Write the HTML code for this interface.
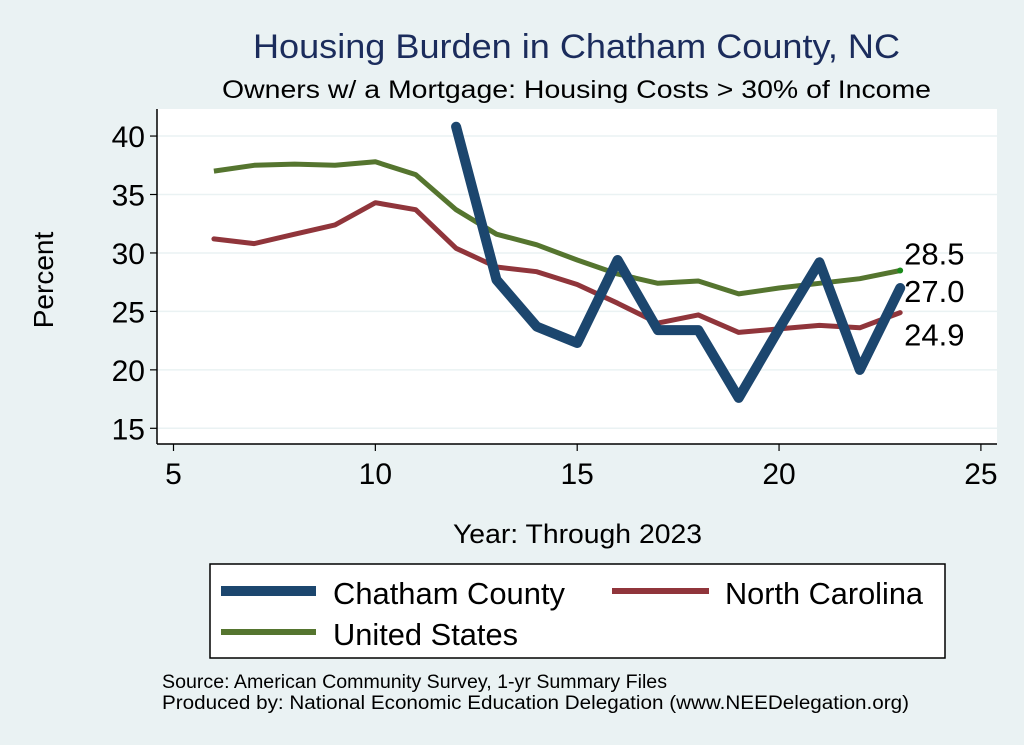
<!DOCTYPE html>
<html><head><meta charset="utf-8"><style>
body{margin:0;background:#eaf2f3;}
svg{display:block;font-family:"Liberation Sans",Arial,sans-serif;}
</style></head><body>
<svg id="chart" width="1024" height="745" viewBox="0 0 1024 745">
<rect width="1024" height="745" fill="#eaf2f3"/>
<text x="253" y="58" textLength="647" lengthAdjust="spacingAndGlyphs" font-size="34" fill="#1b2c5c">Housing Burden in Chatham County, NC</text>
<text x="222" y="98" textLength="709" lengthAdjust="spacingAndGlyphs" font-size="25" fill="#000">Owners w/ a Mortgage: Housing Costs &gt; 30% of Income</text>
<rect x="157" y="109" width="840" height="335" fill="#fff"/>
<g id="grid"></g>
<g id="axes"></g>
<g id="series"></g>
<text transform="translate(53,280) rotate(-90)" text-anchor="middle" font-size="28">Percent</text>
<text x="453" y="543" textLength="249" lengthAdjust="spacingAndGlyphs" font-size="27">Year: Through 2023</text>
<g>
<rect x="210" y="564" width="735" height="94" fill="#fff" stroke="#000" stroke-width="1.5"/>
<line x1="221" y1="591" x2="316" y2="591" stroke="#1c466e" stroke-width="10"/>
<text x="333" y="604" textLength="232" lengthAdjust="spacingAndGlyphs" font-size="31">Chatham County</text>
<line x1="612" y1="591" x2="709" y2="591" stroke="#90353b" stroke-width="6"/>
<text x="725" y="604" textLength="198" lengthAdjust="spacingAndGlyphs" font-size="31">North Carolina</text>
<line x1="221" y1="632" x2="316" y2="632" stroke="#55752f" stroke-width="6"/>
<text x="333" y="645" textLength="185" lengthAdjust="spacingAndGlyphs" font-size="31">United States</text>
</g>
<text x="162" y="688" textLength="505" lengthAdjust="spacingAndGlyphs" font-size="19">Source: American Community Survey, 1-yr Summary Files</text>
<text x="162" y="709" textLength="747" lengthAdjust="spacingAndGlyphs" font-size="19">Produced by: National Economic Education Delegation (www.NEEDelegation.org)</text>
</svg>
<script>
const usYears=[6,7,8,9,10,11,12,13,14,15,16,17,18,19,20,21,22,23];
const usValues=[37.0,37.5,37.6,37.5,37.8,36.7,33.7,31.6,30.7,29.4,28.2,27.4,27.6,26.5,27.0,27.4,27.8,28.5];
const ncYears=[6,7,8,9,10,11,12,13,14,15,16,17,18,19,20,21,22,23];
const ncValues=[31.2,30.8,31.6,32.4,34.3,33.7,30.4,28.8,28.4,27.3,25.7,24.0,24.7,23.2,23.5,23.8,23.6,24.9];
const chathamYears=[12,13,14,15,16,17,18,19,20,21,22,23];
const chathamValues=[40.8,27.7,23.7,22.3,29.4,23.4,23.4,17.6,23.5,29.2,20.0,27.0];
const xTicks=[5,10,15,20,25];
const yTicks=[15,20,25,30,35,40];
const endLabels=["28.5","27.0","24.9"];

const NS="http://www.w3.org/2000/svg";
const xs=v=>173.5+(v-5)*40.37;
const ys=v=>428.3-(v-15)*11.69;
function mk(tag,attrs,parent){const e=document.createElementNS(NS,tag);for(const k in attrs)e.setAttribute(k,attrs[k]);parent.appendChild(e);return e;}
const grid=document.getElementById('grid'),axes=document.getElementById('axes'),ser=document.getElementById('series');
yTicks.forEach(t=>{
  const g=mk('line',{x1:157,x2:997,y1:ys(t),y2:ys(t),stroke:'#eaf2f3','stroke-width':1.5},grid);
  
  
  const tk=mk('line',{x1:150,x2:157,y1:ys(t),y2:ys(t),stroke:'#000','stroke-width':1.2},axes);
  
  
  const lb=mk('text',{x:145,y:ys(t)+11,'text-anchor':'end','font-size':30},axes);
  lb.textContent=t;
  
  
});
xTicks.forEach(t=>{
  const tk=mk('line',{x1:xs(t),x2:xs(t),y1:444,y2:451,stroke:'#000','stroke-width':1.2},axes);
  
  
  const lb=mk('text',{x:xs(t),y:484,'text-anchor':'middle','font-size':30},axes);
  lb.textContent=t;
  
  
});
const ya=mk('line',{x1:157,x2:157,y1:109,y2:444,stroke:'#000','stroke-width':1.5},axes);


const xa=mk('line',{x1:157,x2:997,y1:444,y2:444,stroke:'#000','stroke-width':1.5},axes);


function pts(xv,yv){return xv.map((x,i)=>xs(x).toFixed(1)+','+ys(yv[i]).toFixed(1)).join(' ');}
const us=mk('polyline',{points:pts(usYears,usValues),fill:'none',stroke:'#55752f','stroke-width':5,'stroke-linejoin':'round'},ser);


const nc=mk('polyline',{points:pts(ncYears,ncValues),fill:'none',stroke:'#90353b','stroke-width':5,'stroke-linejoin':'round','stroke-linecap':'round'},ser);


const ch=mk('polyline',{points:pts(chathamYears,chathamValues),fill:'none',stroke:'#1c466e','stroke-width':10,'stroke-linejoin':'round','stroke-linecap':'round'},ser);


const dot=mk('circle',{cx:xs(usYears[usYears.length-1]),cy:ys(usValues[usValues.length-1]),r:3,fill:'#1a8a1a'},ser);


const lx=xs(23)+4;
[[endLabels[0],ys(usValues[17])-6],[endLabels[1],ys(chathamValues[11])+14],[endLabels[2],ys(ncValues[17])+33]].forEach((p,i)=>{
  const t=mk('text',{x:lx,y:p[1],'font-size':31},ser);
  t.textContent=p[0];
  
  
});
</script>
</body></html>
